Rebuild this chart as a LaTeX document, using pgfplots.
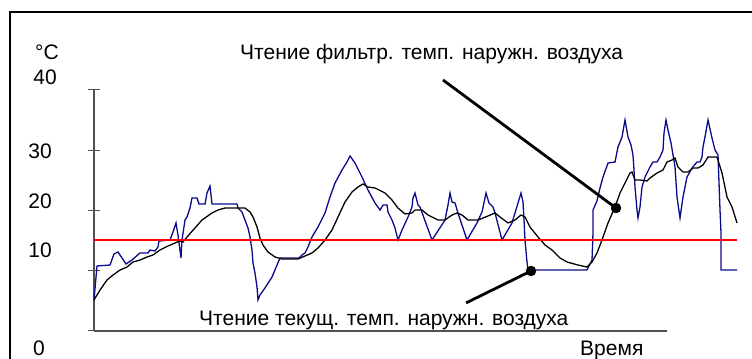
\documentclass[border=0pt]{standalone}
\usepackage{pgfplots}
\pgfplotsset{compat=1.18}
\usepackage{fontspec}
\setmainfont{Liberation Sans}
\definecolor{navyline}{RGB}{10,10,140}
\definecolor{axgray}{RGB}{80,80,80}
\begin{document}
\begin{tikzpicture}
\begin{axis}[
  scale only axis,
  width=573bp, height=241bp,
  xmin=94, xmax=667, ymin=0, ymax=40,
  axis lines*=left,
  axis line style={draw=axgray, line width=1.2bp},
  xtick=\empty,
  ytick={0,10,20,30,40},
  yticklabels={},
  tick align=center,
  major tick length=12bp,
  tick style={draw=axgray, line width=1bp},
  clip=false,
  font=\fontsize{21bp}{25bp}\selectfont,
]
% outer frame (top and left)
\draw[line width=2bp] (axis cs:10,-6) -- (axis cs:10,52.95) -- (axis cs:760,52.95);

% current outdoor temperature (blue)
\addplot[navyline, line width=1.3bp] coordinates {
(94,5.15) (97,10.79) (110,10.95) (114,12.78) (118,13.11) (122,12.12) (126,11.12)
(132,11.78) (140,12.95) (148,12.95) (150,13.44) (155,13.28) (158,13.94) (159,14.94)
(170,15.10) (173,16.43) (176,17.93) (178,15.93) (181,12.12) (182,15.10) (185,18.42)
(187,18.92) (190,20.41) (192,22.07) (197,22.07) (199,21.08) (205,21.08) (207,22.90)
(210,24.07) (212,21.08) (237,21.08) (238,20.41) (242,19.75) (245,18.42) (248,17.10)
(250,15.60) (252,13.44) (253,11.29) (255,9.63) (257,7.30) (258,5.15) (260,5.98)
(265,7.14) (272,8.96) (280,12.12) (299,12.12) (302,12.61) (305,12.95) (308,13.94)
(312,15.60) (318,17.26) (325,19.59) (330,22.24) (335,24.56) (342,26.72) (347,28.05)
(350,29.05) (355,27.88) (362,25.56) (368,23.40) (375,21.24) (380,20.08) (383,20.91)
(387,20.91) (388,19.75) (392,18.42) (395,17.10) (398,15.10) (402,16.76) (408,18.92)
(412,20.58) (413,22.07) (415,22.90) (418,20.91) (420,20.58) (432,15.10) (445,18.42)
(448,20.91) (450,22.90) (452,21.41) (455,21.24) (458,19.59) (467,15.10) (477,17.93)
(482,19.75) (486,22.90) (489,21.24) (493,20.58) (495,19.59) (502,15.10) (512,17.93)
(515,19.59) (518,21.24) (521,22.90) (523,21.41) (524,18.42) (525,15.10) (527,11.45)
(528,10.12) (587,10.12) (590,11.12) (592,11.78) (593,16.27) (593,20.08) (597,21.58)
(600,23.73) (603,25.56) (608,27.88) (615,28.05) (618,30.54) (622,32.20) (625,35.02)
(628,32.20) (631,30.87) (633,29.21) (634,26.72) (635,23.90) (637,20.08) (638,18.76)
(640,20.58) (642,23.90) (645,25.56) (650,27.22) (653,28.05) (657,28.05) (660,28.88)
(663,30.04) (664,32.86) (666,35.02) (668,33.36) (671,31.20) (673,29.21) (675,27.22)
(677,22.24) (680,18.76) (683,22.24) (687,25.56) (692,27.05) (697,28.05) (700,28.05)
(702,28.88) (703,30.54) (705,32.20) (708,35.02) (712,32.03) (715,30.04) (718,29.21)
(720,20.08) (721,16.27) (721,10.12) (737,10.12)
};

% filtered outdoor temperature (black)
\addplot[black, line width=1.3bp] coordinates {
(94,5.15) (100,6.80) (107,8.46) (113,9.29) (120,10.12) (127,10.62) (133,11.45)
(140,11.78) (147,12.28) (153,12.61) (160,13.44) (168,14.11) (175,14.61) (180,14.94)
(183,14.77) (187,15.60) (195,17.10) (202,18.42) (212,19.59) (218,20.08) (225,20.41)
(245,20.41) (250,19.75) (253,18.92) (257,17.26) (260,15.44) (263,14.27) (268,13.11)
(275,12.28) (282,11.95) (298,11.95) (305,12.45) (312,12.95) (318,13.78) (325,15.10)
(332,16.76) (338,18.92) (345,21.41) (352,23.07) (358,23.90) (363,24.40) (368,23.90)
(375,23.73) (385,22.90) (392,21.74) (398,20.41) (405,19.42) (412,19.59) (415,20.08)
(422,20.08) (428,19.25) (438,18.42) (445,18.42) (452,19.25) (457,19.59) (462,19.25)
(468,18.42) (478,18.42) (488,19.09) (495,19.59) (500,18.92) (508,17.93) (515,18.42)
(521,19.25) (525,18.92) (530,17.26) (538,15.60) (545,14.27) (552,13.44) (560,12.12)
(567,11.45) (578,10.95) (587,10.62) (592,11.45) (597,12.95) (602,15.10) (608,17.93)
(615,20.58) (620,22.90) (625,24.56) (630,26.22) (632,26.39) (635,25.06) (640,25.06)
(647,24.90) (650,25.39) (657,26.22) (663,26.72) (667,28.05) (672,28.38) (675,28.71)
(678,27.22) (683,26.39) (688,26.39) (693,27.05) (698,27.05) (703,27.55) (708,28.88)
(717,28.88) (722,26.22) (727,22.24) (732,20.58) (737,17.93)
};

% limit line (red)
\addplot[red, line width=1.3bp] coordinates {(94,15.10) (737,15.10)};

% leader lines and dots
\draw[line width=2.8bp] (axis cs:443,41.66) -- (axis cs:616,20.41);
\draw[line width=2.8bp] (axis cs:466,4.65) -- (axis cs:531,9.96);
\addplot[only marks, mark=*, mark size=5bp, black] coordinates {(616,20.41) (531,9.96)};

% labels
\node[anchor=base west, inner sep=0pt] at (axis cs:35,44.98) {°C};
\node[anchor=base east, inner sep=0pt] at (axis cs:57,40.83) {40};
\node[anchor=base east, inner sep=0pt] at (axis cs:52,28.55) {30};
\node[anchor=base east, inner sep=0pt] at (axis cs:52,20.41) {20};
\node[anchor=base east, inner sep=0pt] at (axis cs:52,12.28) {10};
\node[anchor=base east, inner sep=0pt] at (axis cs:45,-4.15) {0};
\node[anchor=base west, inner sep=0pt] at (axis cs:580,-4.15) {Время};
\node[anchor=base west, inner sep=0pt] at (axis cs:240,44.98) {Чтение фильтр. темп. наружн. воздуха};
\node[anchor=base west, inner sep=0pt] at (axis cs:199,0.83) {Чтение текущ. темп. наружн. воздуха};

\coordinate (bbSW) at (axis cs:0,-4.647);
\coordinate (bbNE) at (axis cs:752,54.938);
\end{axis}
\pgfresetboundingbox
\path[use as bounding box] (bbSW) rectangle (bbNE);
\end{tikzpicture}
\end{document}
